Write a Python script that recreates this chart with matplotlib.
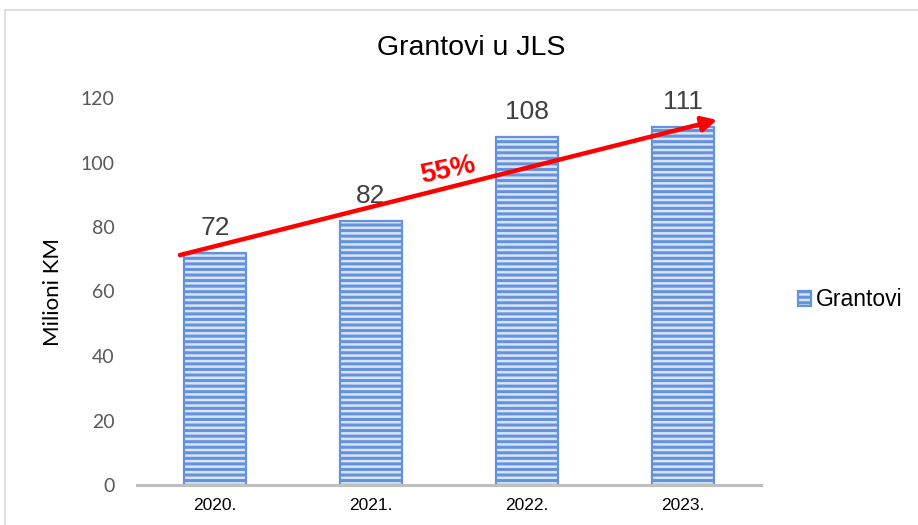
import matplotlib
matplotlib.use("Agg")
import matplotlib.pyplot as plt
from matplotlib.patches import Rectangle

plt.rcParams['font.family'] = ['Liberation Sans', 'DejaVu Sans']
plt.rcParams['hatch.linewidth'] = 2.2

years = ["2020.", "2021.", "2022.", "2023."]
grants = [72, 82, 108, 111]
series_name = "Grantovi"
title = "Grantovi u JLS"
y_label = "Milioni KM"
y_ticks = [0, 20, 40, 60, 80, 100, 120]
growth_label = "55%"

fig = plt.figure(figsize=(9.18, 5.25), dpi=100)
fig.patches.append(Rectangle((5 / 918, -0.1), 1.1, 1 - 10 / 525 + 0.1,
                             transform=fig.transFigure, fill=False,
                             edgecolor="#D9D9D9", linewidth=1.2))

ax = fig.add_axes([137 / 918, 1 - 485 / 525, 624 / 918, 387 / 525])
x = range(len(years))
bars = ax.bar(x, grants, width=0.4, color="#D8E5F8", edgecolor="#6592DD",
              hatch="---", linewidth=0, label=series_name)
outline = ax.bar(x, grants, width=0.4, fill=False, edgecolor="#6592DD",
                 linewidth=1.6)

for xi, v in zip(x, grants):
    ax.text(xi, v + 4, str(v), ha="center", va="bottom", fontsize=19,
            color="#404040")

ax.set_xlim(-0.5, len(years) - 0.5)
ax.set_ylim(0, 120)
ax.set_yticks(y_ticks)
ax.set_xticks(list(x))
ax.set_xticklabels(years, fontsize=12.5, color="#000000")
ax.tick_params(axis="y", labelsize=14, labelcolor="#595959", length=0, pad=16)
for lbl in ax.get_yticklabels():
    lbl.set_family(["Lato", "DejaVu Sans"])
ax.tick_params(axis="x", length=0, pad=9)
for s in ["top", "right", "left"]:
    ax.spines[s].set_visible(False)
ax.spines["bottom"].set_color("#BFBFBF")
ax.spines["bottom"].set_linewidth(2.2)
ax.set_ylabel(y_label, fontsize=16, color="#000000", labelpad=13,
              family=["Lato", "DejaVu Sans"])

fig.text(471 / 918, 1 - 48 / 525, title, ha="center", va="center",
         fontsize=20.5, color="#000000")

# growth trend arrow across the bars
ax.annotate("", xy=(3.22, 113.2), xytext=(-0.225, 71.3),
            arrowprops=dict(arrowstyle="-|>,head_length=0.9,head_width=0.45",
                            color="#FF0000", lw=3.2, shrinkA=0, shrinkB=0),
            annotation_clip=False)
ax.text(1.49, 97.5, growth_label, ha="center", va="center", fontsize=20,
        fontweight="bold", color="#FF0000", rotation=12)

leg = fig.legend(handles=[(bars, outline)], labels=[series_name],
                 loc="center left",
                 bbox_to_anchor=(777 / 918, 1 - 300 / 525), frameon=False,
                 fontsize=16.5, handlelength=0.6, handleheight=0.6,
                 handletextpad=0.2)

fig.savefig("out.png", dpi=100, facecolor="white")
